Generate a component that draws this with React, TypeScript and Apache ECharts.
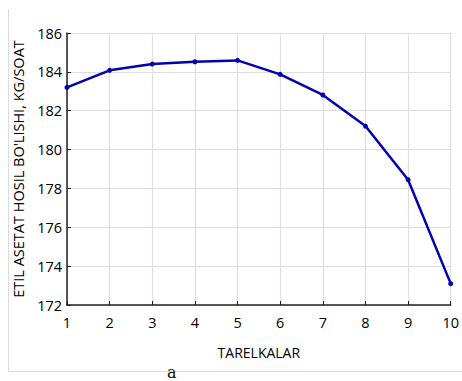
import React, { useEffect, useRef } from "react";
import * as echarts from "echarts";

const categories = [1, 2, 3, 4, 5, 6, 7, 8, 9, 10];
const values = [183.2, 184.08, 184.4, 184.52, 184.59, 183.87, 182.81, 181.21, 178.45, 173.1];
const yTicks = [172, 174, 176, 178, 180, 182, 184, 186];

export default function App() {
  const ref = useRef<HTMLDivElement>(null);
  useEffect(() => {
    document.body.style.margin = "0";
    const chart = echarts.init(ref.current!, null, { renderer: "svg" });
    const font = "'Open Sans', 'Noto Sans', sans-serif";
    chart.setOption({
      animation: false,
      backgroundColor: "#ffffff",
      grid: { left: 67, top: 33, right: 10, bottom: 76, containLabel: false },
      xAxis: {
        type: "value",
        min: 1,
        max: 10,
        interval: 1,
        name: "TARELKALAR",
        nameLocation: "middle",
        nameGap: 40,
        nameTextStyle: { fontFamily: font, fontSize: 14, color: "#000" },
        axisLine: { show: true, lineStyle: { color: "#222", width: 1.5 } },
        axisTick: { show: true, inside: true, length: 4, lineStyle: { color: "#222" } },
        axisLabel: { fontFamily: font, fontSize: 14.5, color: "#000", margin: 10 },
        splitLine: { show: true, lineStyle: { color: "#dedede", width: 1.2 } },
      },
      yAxis: {
        type: "value",
        min: yTicks[0],
        max: yTicks[yTicks.length - 1],
        interval: 2,
        name: "ETIL ASETAT HOSIL BO'LISHI, KG/SOAT",
        nameLocation: "middle",
        nameGap: 38,
        nameRotate: 90,
        nameTextStyle: { fontFamily: font, fontSize: 14.5, color: "#000" },
        axisLine: { show: true, lineStyle: { color: "#222", width: 1.5 } },
        axisTick: { show: true, inside: true, length: 4, lineStyle: { color: "#222" } },
        axisLabel: { fontFamily: font, fontSize: 14.5, color: "#000", margin: 5 },
        splitLine: { show: true, lineStyle: { color: "#dedede", width: 1.2 } },
      },
      graphic: [
        { type: "line", shape: { x1: 8.5, y1: 9, x2: 8.5, y2: 371.5 }, style: { stroke: "#dcdcdc", lineWidth: 1 } },
        { type: "line", shape: { x1: 8, y1: 371.5, x2: 462, y2: 371.5 }, style: { stroke: "#dcdcdc", lineWidth: 1 } },
        { type: "text", left: 167, top: 364, style: { text: "a", font: "16px 'DejaVu Serif', serif", fill: "#111" } },
      ],
      series: [
        {
          type: "line",
          data: categories.map((c, i) => [c, values[i]]),
          symbol: "circle",
          symbolSize: 5,
          clip: false,
          lineStyle: { color: "#0000ad", width: 2.5 },
          itemStyle: { color: "#0000ad" },
        },
      ],
    });
    return () => chart.dispose();
  }, []);
  return <div ref={ref} style={{ width: 462, height: 381 }} />;
}
